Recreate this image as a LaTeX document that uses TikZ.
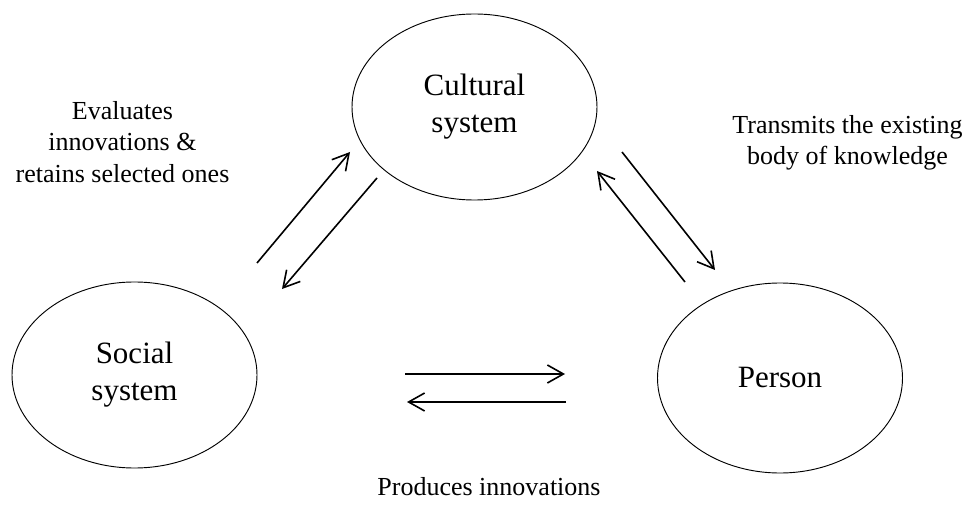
\documentclass[tikz,border=0pt]{standalone}
\usepackage{fontspec}
\setmainfont{Liberation Serif}
\usetikzlibrary{arrows.meta, shapes.geometric}

\begin{document}
\begin{tikzpicture}[x=0.75pt,y=-0.75pt,>={Straight Barb[length=12pt,width=13.5pt]},
  sys node/.style={ellipse,draw,line width=0.7pt,minimum width=183.75pt,minimum height=139.5pt,
    inner sep=0pt,align=center,font=\fontsize{23.25}{27.75}\selectfont},
  note/.style={align=center,inner sep=0pt,font=\fontsize{19.5}{23.4}\selectfont}]
  \useasboundingbox (0,0) rectangle (968,506);
  \node[sys node] (soc) at (134.5,375) {Social\\system};
  \node[sys node] (cult) at (474.5,107) {Cultural\\system};
  \node[sys node, minimum height=142.5pt] (pers) at (780,378) {Person};
  \node[note] (evalnote) at (122.5,142) {Evaluates\\innovations \&\\retains selected ones};
  \node[note] (transnote) at (847.5,143) {Transmits the existing\\body of knowledge};
  \node[note, anchor=base] (prodnote) at (489,495) {Produces innovations};
  % loose ends of the paired arrows
  \coordinate (sc1) at (257,263); \coordinate (sc2) at (350,152);
  \coordinate (cs1) at (377,178); \coordinate (cs2) at (282,289);
  \coordinate (cp1) at (622,152); \coordinate (cp2) at (715,270);
  \coordinate (pc1) at (685,282); \coordinate (pc2) at (597,171);
  \coordinate (sp1) at (405,374); \coordinate (sp2) at (565,374);
  \coordinate (ps1) at (566,402); \coordinate (ps2) at (407,402);
  \path[->,line width=1.2pt]
     (sc1) edge (sc2)
     (cs1) edge (cs2)
     (cp1) edge (cp2)
     (pc1) edge (pc2)
     (sp1) edge (sp2)
     (ps1) edge (ps2);
\end{tikzpicture}
\end{document}
